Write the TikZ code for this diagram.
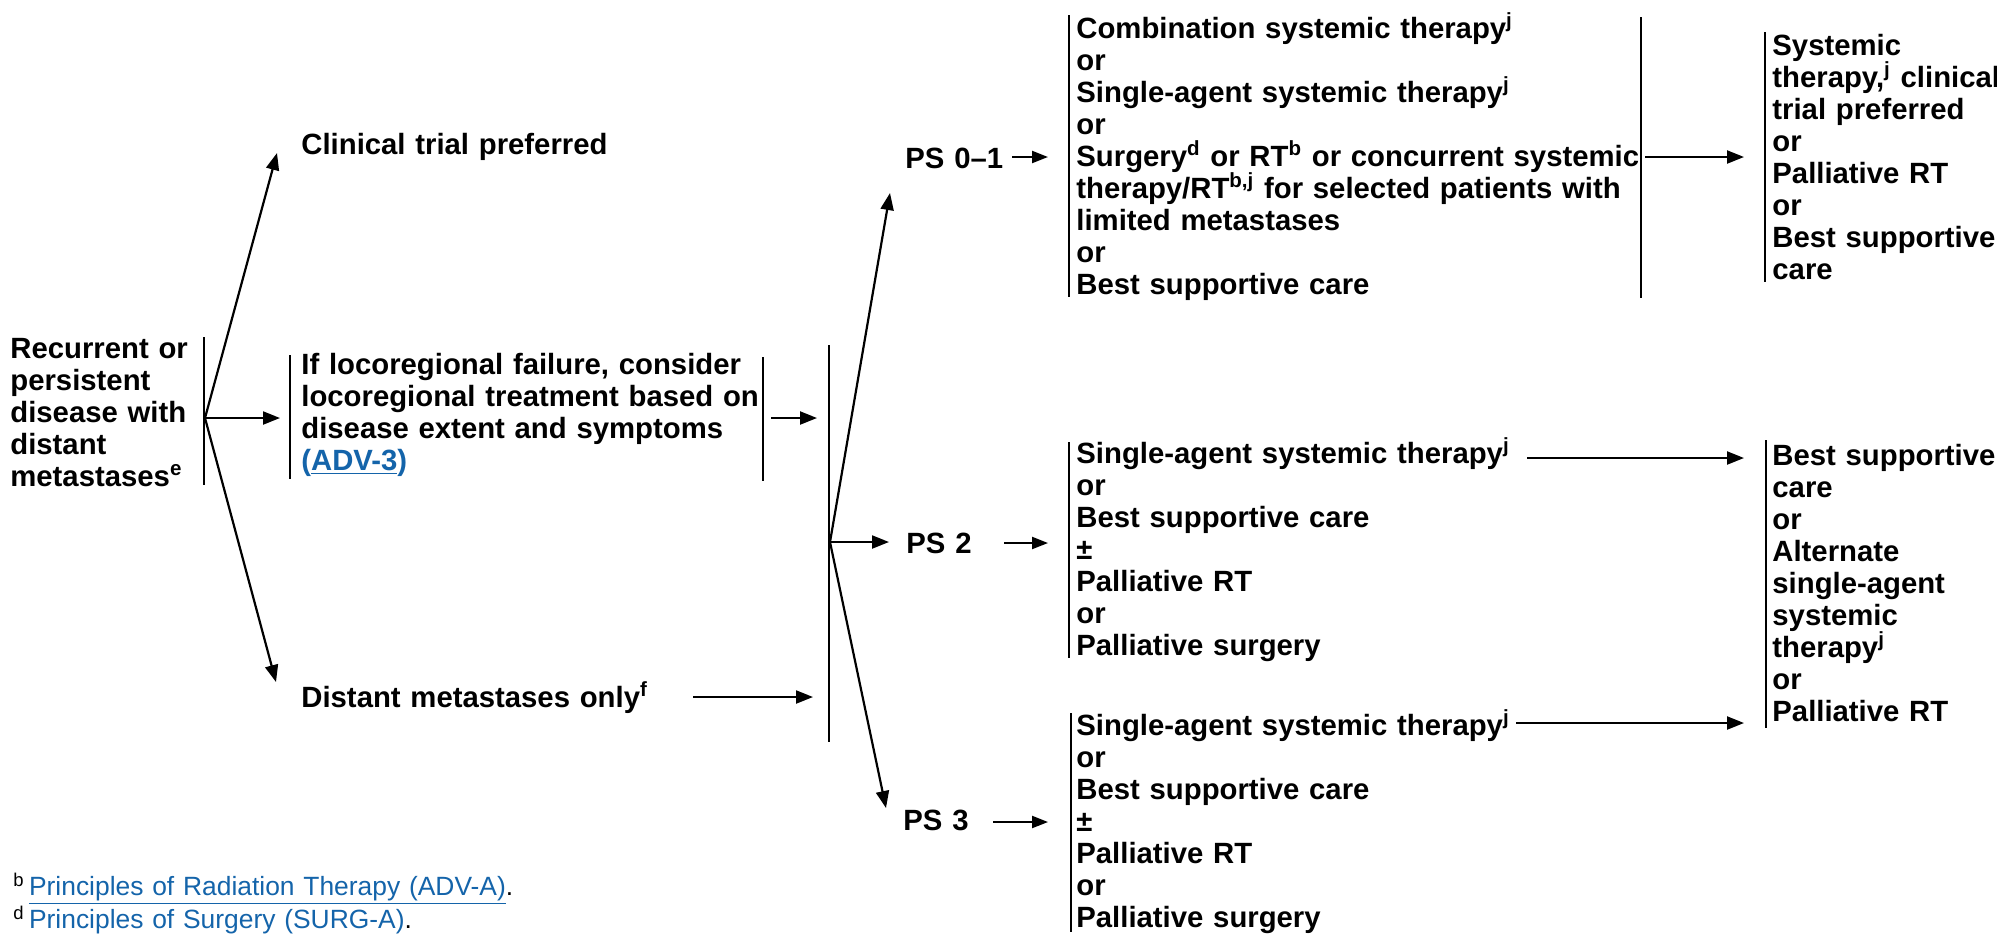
\documentclass[tikz,border=0pt]{standalone}
\usepackage{fontspec}
\setmainfont{Liberation Sans}
\usetikzlibrary{arrows.meta}
\definecolor{lnk}{RGB}{20,100,170}
\newcommand{\lk}[1]{\textcolor{lnk}{\underline{#1}}}
\newcommand{\sps}[1]{\textsuperscript{#1}}
\setlength{\lineskiplimit}{-30pt}
\begin{document}
\begin{tikzpicture}[x=0.5pt,y=-0.5pt,
  txt/.style={anchor=base west, inner sep=0pt, text width=400pt, align=left,
    font=\fontsize{14.65}{16}\selectfont\bfseries},
  fnt/.style={anchor=base west, inner sep=0pt, text width=400pt, align=left,
    font=\fontsize{13.2}{14}\selectfont},
  bar/.style={line width=1.1pt},
  arr/.style={line width=1.1pt, -{Triangle[length=8.5pt,width=6.5pt]}},
  sarr/.style={line width=1.1pt, -{Triangle[length=8pt,width=6pt]}}
]
\useasboundingbox (0,0) rectangle (1997,934);

% text nodes
\node[txt] (rec) at (10,358) {Recurrent or\\persistent\\disease with\\distant\\metastases\sps{e}};
\node[txt] (clin) at (301,154) {Clinical trial preferred};
\node[txt] (loco) at (301,374) {If locoregional failure, consider\\locoregional treatment based on\\disease extent and symptoms\\\textcolor{lnk}{(\underline{ADV-3})}};
\node[txt] (dist) at (301,707) {Distant metastases only\sps{f}};
\node[txt] (ps01) at (905,168) {PS 0–1};
\node[txt] (ps2) at (906,553) {PS 2};
\node[txt] (ps3) at (903,830) {PS 3};
\node[txt] (opt01) at (1076,38) {Combination systemic therapy\sps{j}\\or\\Single-agent systemic therapy\sps{j}\\or\\Surgery\sps{d} or RT\sps{b} or concurrent systemic\\therapy/RT\sps{b,j} for selected patients with\\limited metastases\\or\\Best supportive care};
\node[txt] (opt2) at (1076,463) {Single-agent systemic therapy\sps{j}\\or\\Best supportive care\\±\\Palliative RT\\or\\Palliative surgery};
\node[txt] (opt3) at (1076,735) {Single-agent systemic therapy\sps{j}\\or\\Best supportive care\\±\\Palliative RT\\or\\Palliative surgery};
\node[txt] (res1) at (1772,55) {Systemic\\therapy,\sps{j} clinical\\trial preferred\\or\\Palliative RT\\or\\Best supportive\\care};
\node[txt] (res2) at (1772,465) {Best supportive\\care\\or\\Alternate\\single-agent\\systemic\\therapy\sps{j}\\or\\Palliative RT};
\node[fnt] (fn) at (13,895) {\sps{b}\,\lk{Principles of Radiation Therapy (ADV-A)}.\\\sps{d}\,\lk{Principles of Surgery (SURG-A)}.};

% bars
\coordinate (b0t) at (204,337); \coordinate (b0b) at (204,485);
\coordinate (bLt) at (290,355); \coordinate (bLb) at (290,479);
\coordinate (bRt) at (763,357); \coordinate (bRb) at (763,481);
\coordinate (b2t) at (829,345); \coordinate (b2b) at (829,742);
\coordinate (o1t) at (1069,15); \coordinate (o1b) at (1069,297);
\coordinate (o1rt) at (1641,17); \coordinate (o1rb) at (1641,298);
\coordinate (r1t) at (1765,32); \coordinate (r1b) at (1765,282);
\coordinate (o2t) at (1069,442); \coordinate (o2b) at (1069,658);
\coordinate (r2t) at (1766,440); \coordinate (r2b) at (1766,728);
\coordinate (o3t) at (1071,713); \coordinate (o3b) at (1071,932);
\foreach \a/\b in {b0t/b0b,bLt/bLb,bRt/bRb,b2t/b2b,o1t/o1b,o1rt/o1rb,r1t/r1b,o2t/o2b,r2t/r2b,o3t/o3b}
  \draw[bar] (\a) -- (\b);

% arrow end points
\coordinate (s0) at (205,418);
\coordinate (eclin) at (277,153);
\coordinate (eloco) at (280,418);
\coordinate (edist) at (276,682);
\coordinate (slR) at (771,418); \coordinate (elR) at (817,418);
\coordinate (sdR) at (693,697); \coordinate (edR) at (813,697);
\coordinate (s2) at (830,542);
\coordinate (e01) at (890,193);
\coordinate (e2) at (889,542);
\coordinate (e3) at (886,808);
\coordinate (s01a) at (1012,157); \coordinate (e01a) at (1048,157);
\coordinate (s2a) at (1004,543); \coordinate (e2a) at (1048,543);
\coordinate (s3a) at (993,822); \coordinate (e3a) at (1048,822);
\coordinate (sr1) at (1645,157); \coordinate (er1) at (1744,157);
\coordinate (sr2) at (1527,458); \coordinate (er2) at (1744,458);
\coordinate (sr3) at (1516,723); \coordinate (er3) at (1744,723);

\draw[arr] (s0) -- (eclin);
\draw[arr] (s0) -- (eloco);
\draw[arr] (s0) -- (edist);
\draw[arr] (slR) -- (elR);
\draw[arr] (sdR) -- (edR);
\draw[arr] (s2) -- (e01);
\draw[arr] (s2) -- (e2);
\draw[arr] (s2) -- (e3);
\draw[sarr] (s01a) -- (e01a);
\draw[sarr] (s2a) -- (e2a);
\draw[sarr] (s3a) -- (e3a);
\draw[arr] (sr1) -- (er1);
\draw[arr] (sr2) -- (er2);
\draw[arr] (sr3) -- (er3);
\end{tikzpicture}
\end{document}
